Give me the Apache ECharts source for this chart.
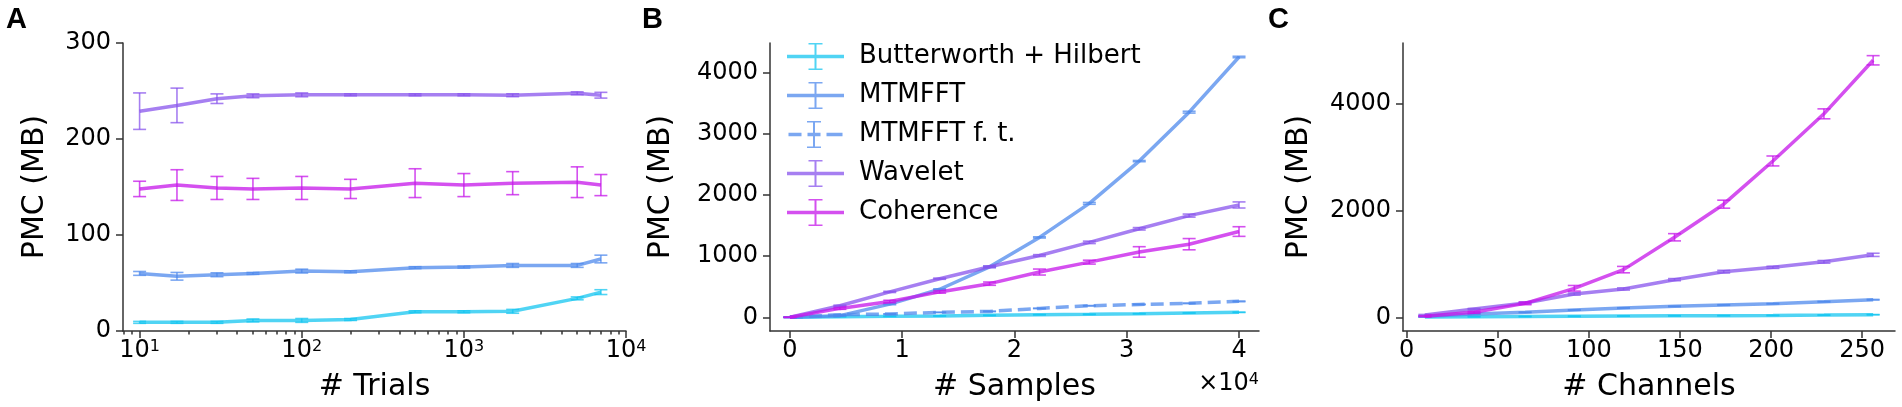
<!DOCTYPE html>
<html>
<head>
    <meta charset="utf-8">
    <title>PMC</title>
    <script src="https://cdn.jsdelivr.net/npm/echarts@6/dist/echarts.min.js"></script>
    <style>
        html, body { margin: 0; padding: 0; background: #fff; }
        #chart { width: 1902px; height: 407px; }
    </style>
</head>
<body>
<div id="chart"></div>
<script type="text/javascript">
    // A: PMC vs number of trials
    const trialsA = [10, 17, 30, 50, 100, 200, 500, 1000, 2000, 5000, 7000];
    const bwA = [9, 9, 9, 11, 11, 12, 20, 20, 20.5, 34, 40.5];
    const bwAErr = [1, 1, 1, 1.5, 2, 1, 1, 1, 2, 1.5, 2.5];
    const mtmA = [60, 57, 58.6, 60, 62.4, 61.7, 66, 66.6, 68.3, 68.3, 75];
    const mtmAErr = [2, 4, 2, 1, 2, 1, 1, 1, 2, 2, 4];
    const wavA = [229, 235, 242, 245, 246, 246, 246, 246, 245.6, 247.6, 245.6];
    const wavAErr = [19, 18, 5, 2, 2, 1, 1, 1, 1.5, 1.5, 3];
    const cohA = [148, 152, 149, 148, 149, 148, 154, 152, 154, 155, 152];
    const cohAErr = [8, 16, 12, 11, 12, 10, 15, 12, 12, 16, 11];

    // B: PMC vs number of samples
    const samplesB = [0, 4444, 8889, 13333, 17778, 22222, 26667, 31111, 35556, 40000];
    const bwB = [0, 11, 16, 22, 32, 43, 49, 59, 71, 82];
    const bwBErr = [0, 2, 2, 2, 2, 2, 2, 2, 2, 3];
    const mtmB = [0, 27, 216, 459, 827, 1308, 1865, 2557, 3358, 4261];
    const mtmBErr = [0, 5, 10, 8, 10, 10, 15, 10, 15, 12];
    const mtmFtB = [0, 43, 54, 81, 97, 146, 189, 211, 229, 261];
    const mtmFtBErr = [0, 3, 3, 3, 4, 4, 4, 5, 5, 6];
    const wavB = [0, 189, 416, 632, 827, 1011, 1227, 1449, 1665, 1839];
    const wavBErr = [0, 10, 10, 10, 15, 15, 20, 20, 25, 50];
    const cohB = [0, 146, 259, 416, 551, 741, 903, 1070, 1197, 1404];
    const cohBErr = [0, 15, 20, 20, 27, 49, 32, 86, 92, 79];

    // C: PMC vs number of channels
    const chansC = [10, 37, 65, 92, 119, 147, 174, 201, 229, 256];
    const bwC = [8, 12, 16, 20, 24, 28, 32, 36, 42, 50];
    const bwCErr = [3, 3, 3, 3, 3, 3, 3, 3, 3, 3];
    const mtmC = [19, 62, 94, 137, 175, 206, 231, 255, 293, 330];
    const mtmCErr = [4, 4, 4, 4, 5, 5, 5, 5, 6, 6];
    const wavC = [44, 156, 269, 437, 531, 706, 856, 937, 1040, 1171];
    const wavCErr = [10, 10, 15, 20, 20, 20, 25, 20, 25, 30];
    const cohC = [19, 94, 262, 544, 894, 1500, 2120, 2930, 3813, 4816];
    const cohCErr = [10, 15, 25, 53, 60, 68, 75, 93, 93, 87];

    // tick labels
    const trialDecades = [1, 2, 3, 4];
    const trialMinor = [8, 9, 20, 30, 40, 50, 60, 70, 80, 90, 200, 300, 400, 500, 600, 700, 800, 900,
        2000, 3000, 4000, 5000, 6000, 7000, 8000, 9000];
    const ticksYB = [0, 1000, 2000, 3000, 4000];
    const ticksXB = [0, 10000, 20000, 30000, 40000];
    const ticksYC = [0, 2000, 4000];
    const ticksXC = [0, 50, 100, 150, 200, 250];

    const names = ['Butterworth + Hilbert', 'MTMFFT', 'MTMFFT f. t.', 'Wavelet', 'Coherence'];
    const colors = ['#15c5f0', '#4f89ec', '#4f89ec', '#8854ec', '#c515e9'];

    const FONT = 'DejaVu Sans';
    const AXIS_COLOR = '#333';

    let myChart = echarts.init(document.getElementById('chart'));

    // 误差棒：竖线 + 上下横帽
    function errorBarItem(params, api) {
        const x = api.value(0), y = api.value(1), e = api.value(2);
        const top = api.coord([x, y + e]);
        const bot = api.coord([x, y - e]);
        const cap = 6.5;
        const st = { stroke: api.visual('color'), lineWidth: 1.6, opacity: 0.75 };
        return {
            type: 'group',
            children: [
                { type: 'line', shape: { x1: top[0], y1: top[1], x2: bot[0], y2: bot[1] }, style: st },
                { type: 'line', shape: { x1: top[0] - cap, y1: top[1], x2: top[0] + cap, y2: top[1] }, style: st },
                { type: 'line', shape: { x1: bot[0] - cap, y1: bot[1], x2: bot[0] + cap, y2: bot[1] }, style: st }
            ]
        };
    }

    let series = [];
    function addSeries(idx, xAxisIndex, yAxisIndex, xs, ys, errs) {
        const color = colors[idx];
        series.push({
            name: names[idx],
            type: 'line',
            xAxisIndex: xAxisIndex,
            yAxisIndex: yAxisIndex,
            color: color,
            symbol: 'none',
            silent: true,
            z: 2 + idx,
            itemStyle: { color: color, opacity: 0.75 },
            lineStyle: { color: color, width: 3.5, opacity: 0.75, type: idx === 2 ? [13, 6] : 'solid' },
            data: xs.map((x, i) => [x, ys[i]])
        });
        series.push({
            name: names[idx] + ' err',
            type: 'custom',
            xAxisIndex: xAxisIndex,
            yAxisIndex: yAxisIndex,
            itemStyle: { color: color },
            silent: true,
            z: 2 + idx,
            renderItem: errorBarItem,
            encode: { x: 0, y: 1 },
            data: xs.map((x, i) => [x, ys[i], errs[i]])
        });
    }

    addSeries(0, 0, 0, trialsA, bwA, bwAErr);
    addSeries(1, 0, 0, trialsA, mtmA, mtmAErr);
    addSeries(3, 0, 0, trialsA, wavA, wavAErr);
    addSeries(4, 0, 0, trialsA, cohA, cohAErr);

    addSeries(0, 3, 1, samplesB, bwB, bwBErr);
    addSeries(1, 3, 1, samplesB, mtmB, mtmBErr);
    addSeries(2, 3, 1, samplesB, mtmFtB, mtmFtBErr);
    addSeries(3, 3, 1, samplesB, wavB, wavBErr);
    addSeries(4, 3, 1, samplesB, cohB, cohBErr);

    addSeries(0, 4, 2, chansC, bwC, bwCErr);
    addSeries(1, 4, 2, chansC, mtmC, mtmCErr);
    addSeries(3, 4, 2, chansC, wavC, wavCErr);
    addSeries(4, 4, 2, chansC, cohC, cohCErr);

    const axisLine = { onZero: false, lineStyle: { color: AXIS_COLOR, width: 1.5 } };
    const tickStyle = { color: AXIS_COLOR, width: 1.5 };
    const labelStyle = { color: '#000', fontSize: 24, fontFamily: FONT };
    const nameStyle = { color: '#000', fontSize: 30, fontFamily: FONT };
    const supRich = { b: { fontSize: 24, fontFamily: FONT, color: '#000' }, s: { fontSize: 16, fontFamily: FONT, color: '#000', verticalAlign: 'top' } };
    const plain = v => String(v);

    // legend icons: line + error bar
    const ICON_SOLID = 'path://M0 11.75H57V15.25H0Z M27.5 0H29.5V27H27.5Z M21.5 0H35.5V1.6H21.5Z M21.5 25.4H35.5V27H21.5Z';
    const ICON_DASH = 'path://M3 11.75H16V15.25H3Z M22 11.75H35V15.25H22Z M41 11.75H57V15.25H41Z M27.5 0H29.5V27H27.5Z M21.5 0H35.5V1.6H21.5Z M21.5 25.4H35.5V27H21.5Z';

    myChart.setOption({
        animation: false,
        backgroundColor: '#fff',
        textStyle: { fontFamily: FONT },
        grid: [
            { left: 123, top: 43, width: 503, height: 289 },
            { left: 770, top: 43, width: 489, height: 289 },
            { left: 1403, top: 43, width: 492, height: 289 }
        ],
        legend: {
            data: names.map((n, i) => ({ name: n, icon: i === 2 ? ICON_DASH : ICON_SOLID })),
            orient: 'vertical',
            left: 782,
            top: 38,
            itemWidth: 57,
            itemHeight: 27,
            itemGap: 12,
            selectedMode: false,
            textStyle: { color: '#000', fontSize: 26, fontFamily: FONT, lineHeight: 27, padding: [0, 0, 0, 10] }
        },
        xAxis: [
            {
                type: 'log', gridIndex: 0, logBase: 10, min: 7.9, max: 10000,
                name: '# Trials', nameLocation: 'middle', nameGap: 41, nameTextStyle: nameStyle,
                axisLine: axisLine, axisTick: { show: false }, axisLabel: { show: false }, splitLine: { show: false }
            },
            {
                type: 'value', gridIndex: 0, position: 'bottom', min: Math.log10(7.9), max: 4,
                axisLine: { show: false },
                axisTick: { length: 7, lineStyle: tickStyle, customValues: trialDecades },
                axisLabel: {
                    margin: 8, customValues: trialDecades, rich: supRich,
                    formatter: v => '{b|10}{s|' + Math.round(v) + '}'
                },
                splitLine: { show: false }
            },
            {
                type: 'value', gridIndex: 0, position: 'bottom', min: Math.log10(7.9), max: 4,
                axisLine: { show: false },
                axisTick: { length: 3.5, lineStyle: tickStyle, customValues: trialMinor.map(Math.log10) },
                axisLabel: { show: false },
                splitLine: { show: false }
            },
            {
                type: 'value', gridIndex: 1, min: -1780, max: 41780,
                name: '# Samples', nameLocation: 'middle', nameGap: 41, nameTextStyle: nameStyle,
                axisLine: axisLine,
                axisTick: { length: 7, lineStyle: tickStyle, customValues: ticksXB },
                axisLabel: Object.assign({ margin: 8, customValues: ticksXB, formatter: v => String(v / 10000) }, labelStyle),
                splitLine: { show: false }
            },
            {
                type: 'value', gridIndex: 2, min: -2, max: 268,
                name: '# Channels', nameLocation: 'middle', nameGap: 41, nameTextStyle: nameStyle,
                axisLine: axisLine,
                axisTick: { length: 7, lineStyle: tickStyle, customValues: ticksXC },
                axisLabel: Object.assign({ margin: 8, customValues: ticksXC, formatter: plain }, labelStyle),
                splitLine: { show: false }
            }
        ],
        yAxis: [
            {
                type: 'value', gridIndex: 0, min: 0, max: 300, interval: 100,
                name: 'PMC (MB)', nameLocation: 'middle', nameGap: 73, nameTextStyle: nameStyle,
                axisLine: axisLine, axisTick: { length: 7, lineStyle: tickStyle },
                axisLabel: Object.assign({ margin: 12, formatter: plain }, labelStyle),
                splitLine: { show: false }
            },
            {
                type: 'value', gridIndex: 1, min: -224, max: 4490,
                name: 'PMC (MB)', nameLocation: 'middle', nameGap: 94, nameTextStyle: nameStyle,
                axisLine: axisLine,
                axisTick: { length: 7, lineStyle: tickStyle, customValues: ticksYB },
                axisLabel: Object.assign({ margin: 12, customValues: ticksYB, formatter: plain }, labelStyle),
                splitLine: { show: false }
            },
            {
                type: 'value', gridIndex: 2, min: -256, max: 5140,
                name: 'PMC (MB)', nameLocation: 'middle', nameGap: 89, nameTextStyle: nameStyle,
                axisLine: axisLine,
                axisTick: { length: 7, lineStyle: tickStyle, customValues: ticksYC },
                axisLabel: Object.assign({ margin: 12, customValues: ticksYC, formatter: plain }, labelStyle),
                splitLine: { show: false }
            }
        ],
        graphic: [
            { type: 'text', x: 6, y: 20, style: { text: 'A', fill: '#000', font: 'bold 29px "Liberation Sans"', textVerticalAlign: 'middle' } },
            { type: 'text', x: 642, y: 20, style: { text: 'B', fill: '#000', font: 'bold 29px "Liberation Sans"', textVerticalAlign: 'middle' } },
            { type: 'text', x: 1268, y: 20, style: { text: 'C', fill: '#000', font: 'bold 29px "Liberation Sans"', textVerticalAlign: 'middle' } },
            {
                type: 'text', x: 1259, y: 384,
                style: {
                    text: '×10{s|4}', fill: '#000', font: '24px "DejaVu Sans"', align: 'right', verticalAlign: 'middle',
                    rich: { s: { fontSize: 16, fontFamily: FONT, verticalAlign: 'top' } }
                }
            }
        ],
        series: series
    });
</script>
</body>
</html>
